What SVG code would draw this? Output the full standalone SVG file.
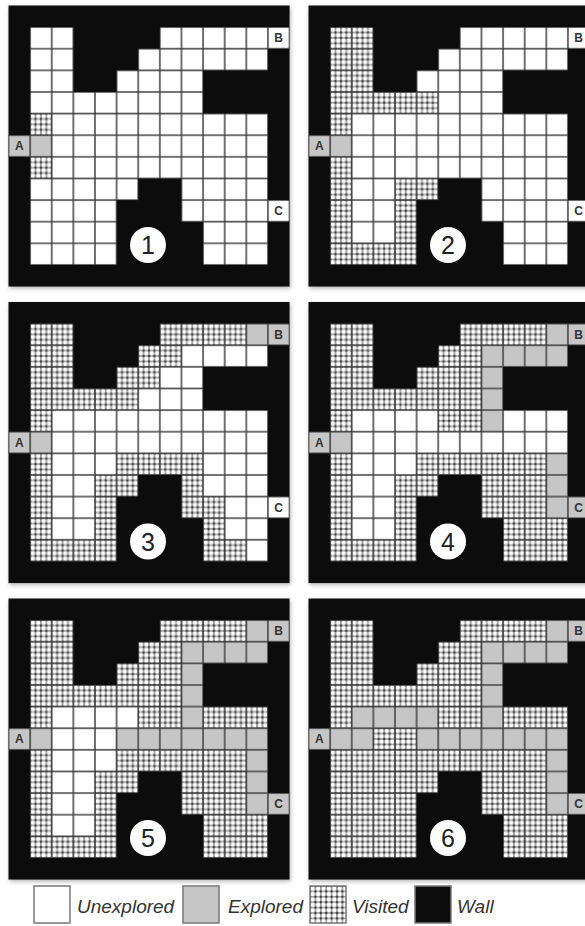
<svg xmlns="http://www.w3.org/2000/svg" width="585" height="926" viewBox="0 0 585 926">
<style>
.w{fill:url(#pw)}
.e{fill:url(#pe)}
.v{fill:url(#pv)}
.bk{fill:#0c0c0c}
.lbl{font-family:"Liberation Sans",Arial,sans-serif;font-weight:bold;font-size:12px;fill:#333;text-anchor:middle}
.num{font-family:"Liberation Sans",Arial,sans-serif;font-size:25px;fill:#222;text-anchor:middle}
.leg{font-family:"Liberation Sans",Arial,sans-serif;font-style:italic;font-size:19px;fill:#333}
.sh{fill:#777;opacity:0.55;filter:url(#blur)}
.lb{stroke:#777;stroke-width:1.5}
</style>
<defs>
<filter id="blur" x="-10%" y="-10%" width="120%" height="120%"><feGaussianBlur stdDeviation="2"/></filter>
<pattern id="pw" patternUnits="userSpaceOnUse" width="1" height="1"><rect width="1" height="1" fill="#fff"/><path d="M0 0H1V1H0Z" fill="none" stroke="#444" stroke-width="0.07"/></pattern>
<pattern id="pe" patternUnits="userSpaceOnUse" width="1" height="1"><rect width="1" height="1" fill="#c6c6c6"/><path d="M0 0H1V1H0Z" fill="none" stroke="#444" stroke-width="0.07"/></pattern>
<pattern id="ph" patternUnits="userSpaceOnUse" width="0.25" height="0.25"><rect width="0.25" height="0.25" fill="#8a8a8a"/><circle cx="0.125" cy="0.125" r="0.1" fill="#fff"/><circle cx="0" cy="0" r="0.045" fill="#2a2a2a"/><circle cx="0.25" cy="0" r="0.045" fill="#2a2a2a"/><circle cx="0" cy="0.25" r="0.045" fill="#2a2a2a"/><circle cx="0.25" cy="0.25" r="0.045" fill="#2a2a2a"/></pattern>
<pattern id="pv" patternUnits="userSpaceOnUse" width="1" height="1"><rect width="1" height="1" fill="url(#ph)"/><path d="M0 0H1V1H0Z" fill="none" stroke="#444" stroke-width="0.07"/></pattern>
</defs>

<g id="panel1" transform="translate(8.5,5.5)">
<rect class="sh" x="1" y="2" width="281" height="281"/>
<g transform="scale(21.62)">
<rect class="bk" width="13" height="13"/>
<rect class="w" x="1" y="1" width="2" height="3"/>
<rect class="w" x="7" y="1" width="5" height="1"/>
<rect class="w" x="6" y="2" width="6" height="1"/>
<rect class="w" x="5" y="3" width="4" height="1"/>
<rect class="w" x="1" y="4" width="8" height="1"/>
<rect class="v" x="1" y="5" width="1" height="1"/>
<rect class="w" x="2" y="5" width="10" height="3"/>
<rect class="e" x="1" y="6" width="1" height="1"/>
<rect class="v" x="1" y="7" width="1" height="1"/>
<rect class="w" x="1" y="8" width="5" height="1"/>
<rect class="w" x="8" y="8" width="4" height="2"/>
<rect class="w" x="1" y="9" width="4" height="3"/>
<rect class="w" x="9" y="10" width="3" height="2"/>
<rect class="e" x="0" y="6" width="1" height="1"/>
<rect class="w" x="12" y="1" width="1" height="1"/>
<rect class="w" x="12" y="9" width="1" height="1"/>
</g>
<text class="lbl" x="10.8" y="144.8">A</text>
<text class="lbl" x="270.2" y="36.7">B</text>
<text class="lbl" x="270.2" y="209.7">C</text>
<circle cx="139.5" cy="239.5" r="18" fill="#fff"/>
<text class="num" x="139.5" y="248.5">1</text>
</g>

<g id="panel2" transform="translate(308.5,5.5)">
<rect class="sh" x="1" y="2" width="281" height="281"/>
<g transform="scale(21.62)">
<rect class="bk" width="13" height="13"/>
<rect class="v" x="1" y="1" width="2" height="3"/>
<rect class="w" x="7" y="1" width="5" height="1"/>
<rect class="w" x="6" y="2" width="6" height="1"/>
<rect class="w" x="5" y="3" width="4" height="1"/>
<rect class="v" x="1" y="4" width="5" height="1"/>
<rect class="w" x="6" y="4" width="3" height="1"/>
<rect class="v" x="1" y="5" width="1" height="1"/>
<rect class="w" x="2" y="5" width="10" height="3"/>
<rect class="e" x="1" y="6" width="1" height="1"/>
<rect class="v" x="1" y="7" width="1" height="4"/>
<rect class="w" x="2" y="8" width="2" height="3"/>
<rect class="v" x="4" y="8" width="2" height="1"/>
<rect class="w" x="8" y="8" width="4" height="2"/>
<rect class="v" x="4" y="9" width="1" height="2"/>
<rect class="w" x="9" y="10" width="3" height="2"/>
<rect class="v" x="1" y="11" width="4" height="1"/>
<rect class="e" x="0" y="6" width="1" height="1"/>
<rect class="w" x="12" y="1" width="1" height="1"/>
<rect class="w" x="12" y="9" width="1" height="1"/>
</g>
<text class="lbl" x="10.8" y="144.8">A</text>
<text class="lbl" x="270.2" y="36.7">B</text>
<text class="lbl" x="270.2" y="209.7">C</text>
<circle cx="139.5" cy="239.5" r="18" fill="#fff"/>
<text class="num" x="139.5" y="248.5">2</text>
</g>

<g id="panel3" transform="translate(8.5,302)">
<rect class="sh" x="1" y="2" width="281" height="281"/>
<g transform="scale(21.62)">
<rect class="bk" width="13" height="13"/>
<rect class="v" x="1" y="1" width="2" height="3"/>
<rect class="v" x="7" y="1" width="4" height="1"/>
<rect class="e" x="11" y="1" width="1" height="1"/>
<rect class="v" x="6" y="2" width="2" height="1"/>
<rect class="w" x="8" y="2" width="4" height="1"/>
<rect class="v" x="5" y="3" width="2" height="1"/>
<rect class="w" x="7" y="3" width="2" height="1"/>
<rect class="v" x="1" y="4" width="5" height="1"/>
<rect class="w" x="6" y="4" width="3" height="1"/>
<rect class="v" x="1" y="5" width="1" height="1"/>
<rect class="w" x="2" y="5" width="10" height="2"/>
<rect class="e" x="1" y="6" width="1" height="1"/>
<rect class="v" x="1" y="7" width="1" height="4"/>
<rect class="w" x="2" y="7" width="3" height="1"/>
<rect class="v" x="5" y="7" width="4" height="1"/>
<rect class="w" x="9" y="7" width="3" height="2"/>
<rect class="w" x="2" y="8" width="2" height="3"/>
<rect class="v" x="4" y="8" width="2" height="1"/>
<rect class="v" x="8" y="8" width="1" height="2"/>
<rect class="v" x="4" y="9" width="1" height="2"/>
<rect class="v" x="9" y="9" width="1" height="3"/>
<rect class="w" x="10" y="9" width="2" height="2"/>
<rect class="v" x="1" y="11" width="4" height="1"/>
<rect class="v" x="10" y="11" width="1" height="1"/>
<rect class="w" x="11" y="11" width="1" height="1"/>
<rect class="e" x="0" y="6" width="1" height="1"/>
<rect class="e" x="12" y="1" width="1" height="1"/>
<rect class="w" x="12" y="9" width="1" height="1"/>
</g>
<text class="lbl" x="10.8" y="144.8">A</text>
<text class="lbl" x="270.2" y="36.7">B</text>
<text class="lbl" x="270.2" y="209.7">C</text>
<circle cx="139.5" cy="239.5" r="18" fill="#fff"/>
<text class="num" x="139.5" y="248.5">3</text>
</g>

<g id="panel4" transform="translate(308.5,302)">
<rect class="sh" x="1" y="2" width="281" height="281"/>
<g transform="scale(21.62)">
<rect class="bk" width="13" height="13"/>
<rect class="v" x="1" y="1" width="2" height="3"/>
<rect class="v" x="7" y="1" width="4" height="1"/>
<rect class="e" x="11" y="1" width="1" height="1"/>
<rect class="v" x="6" y="2" width="2" height="1"/>
<rect class="e" x="8" y="2" width="4" height="1"/>
<rect class="v" x="5" y="3" width="3" height="1"/>
<rect class="e" x="8" y="3" width="1" height="3"/>
<rect class="v" x="1" y="4" width="7" height="1"/>
<rect class="v" x="1" y="5" width="1" height="1"/>
<rect class="w" x="2" y="5" width="4" height="1"/>
<rect class="v" x="6" y="5" width="2" height="1"/>
<rect class="w" x="9" y="5" width="3" height="1"/>
<rect class="e" x="1" y="6" width="1" height="1"/>
<rect class="w" x="2" y="6" width="10" height="1"/>
<rect class="v" x="1" y="7" width="1" height="4"/>
<rect class="w" x="2" y="7" width="3" height="1"/>
<rect class="v" x="5" y="7" width="6" height="1"/>
<rect class="e" x="11" y="7" width="1" height="3"/>
<rect class="w" x="2" y="8" width="2" height="3"/>
<rect class="v" x="4" y="8" width="2" height="1"/>
<rect class="v" x="8" y="8" width="3" height="2"/>
<rect class="v" x="4" y="9" width="1" height="2"/>
<rect class="v" x="9" y="10" width="3" height="2"/>
<rect class="v" x="1" y="11" width="4" height="1"/>
<rect class="e" x="0" y="6" width="1" height="1"/>
<rect class="e" x="12" y="1" width="1" height="1"/>
<rect class="e" x="12" y="9" width="1" height="1"/>
</g>
<text class="lbl" x="10.8" y="144.8">A</text>
<text class="lbl" x="270.2" y="36.7">B</text>
<text class="lbl" x="270.2" y="209.7">C</text>
<circle cx="139.5" cy="239.5" r="18" fill="#fff"/>
<text class="num" x="139.5" y="248.5">4</text>
</g>

<g id="panel5" transform="translate(8.5,598.5)">
<rect class="sh" x="1" y="2" width="281" height="281"/>
<g transform="scale(21.62)">
<rect class="bk" width="13" height="13"/>
<rect class="v" x="1" y="1" width="2" height="3"/>
<rect class="v" x="7" y="1" width="4" height="1"/>
<rect class="e" x="11" y="1" width="1" height="1"/>
<rect class="v" x="6" y="2" width="2" height="1"/>
<rect class="e" x="8" y="2" width="4" height="1"/>
<rect class="v" x="5" y="3" width="3" height="1"/>
<rect class="e" x="8" y="3" width="1" height="3"/>
<rect class="v" x="1" y="4" width="7" height="1"/>
<rect class="v" x="1" y="5" width="1" height="1"/>
<rect class="w" x="2" y="5" width="4" height="1"/>
<rect class="v" x="6" y="5" width="2" height="1"/>
<rect class="v" x="9" y="5" width="3" height="1"/>
<rect class="e" x="1" y="6" width="1" height="1"/>
<rect class="w" x="2" y="6" width="3" height="1"/>
<rect class="e" x="5" y="6" width="7" height="1"/>
<rect class="v" x="1" y="7" width="1" height="4"/>
<rect class="w" x="2" y="7" width="3" height="1"/>
<rect class="v" x="5" y="7" width="6" height="1"/>
<rect class="e" x="11" y="7" width="1" height="3"/>
<rect class="w" x="2" y="8" width="2" height="3"/>
<rect class="v" x="4" y="8" width="2" height="1"/>
<rect class="v" x="8" y="8" width="3" height="2"/>
<rect class="v" x="4" y="9" width="1" height="2"/>
<rect class="v" x="9" y="10" width="3" height="2"/>
<rect class="v" x="1" y="11" width="4" height="1"/>
<rect class="e" x="0" y="6" width="1" height="1"/>
<rect class="e" x="12" y="1" width="1" height="1"/>
<rect class="e" x="12" y="9" width="1" height="1"/>
</g>
<text class="lbl" x="10.8" y="144.8">A</text>
<text class="lbl" x="270.2" y="36.7">B</text>
<text class="lbl" x="270.2" y="209.7">C</text>
<circle cx="139.5" cy="239.5" r="18" fill="#fff"/>
<text class="num" x="139.5" y="248.5">5</text>
</g>

<g id="panel6" transform="translate(308.5,598.5)">
<rect class="sh" x="1" y="2" width="281" height="281"/>
<g transform="scale(21.62)">
<rect class="bk" width="13" height="13"/>
<rect class="v" x="1" y="1" width="2" height="3"/>
<rect class="v" x="7" y="1" width="4" height="1"/>
<rect class="e" x="11" y="1" width="1" height="1"/>
<rect class="v" x="6" y="2" width="2" height="1"/>
<rect class="e" x="8" y="2" width="4" height="1"/>
<rect class="v" x="5" y="3" width="3" height="1"/>
<rect class="e" x="8" y="3" width="1" height="3"/>
<rect class="v" x="1" y="4" width="7" height="1"/>
<rect class="v" x="1" y="5" width="1" height="1"/>
<rect class="e" x="2" y="5" width="4" height="1"/>
<rect class="v" x="6" y="5" width="2" height="1"/>
<rect class="v" x="9" y="5" width="3" height="1"/>
<rect class="e" x="1" y="6" width="2" height="1"/>
<rect class="v" x="3" y="6" width="2" height="1"/>
<rect class="e" x="5" y="6" width="7" height="1"/>
<rect class="v" x="1" y="7" width="10" height="1"/>
<rect class="e" x="11" y="7" width="1" height="3"/>
<rect class="v" x="1" y="8" width="5" height="1"/>
<rect class="v" x="8" y="8" width="3" height="2"/>
<rect class="v" x="1" y="9" width="4" height="3"/>
<rect class="v" x="9" y="10" width="3" height="2"/>
<rect class="e" x="0" y="6" width="1" height="1"/>
<rect class="e" x="12" y="1" width="1" height="1"/>
<rect class="e" x="12" y="9" width="1" height="1"/>
</g>
<text class="lbl" x="10.8" y="144.8">A</text>
<text class="lbl" x="270.2" y="36.7">B</text>
<text class="lbl" x="270.2" y="209.7">C</text>
<circle cx="139.5" cy="239.5" r="18" fill="#fff"/>
<text class="num" x="139.5" y="248.5">6</text>
</g>

<g id="legend">
<rect class="lb" x="34" y="886" width="36" height="37" fill="#fff"/>
<text class="leg" x="77" y="913">Unexplored</text>
<rect class="lb" x="183" y="886" width="36" height="37" fill="#c6c6c6"/>
<text class="leg" x="228" y="913">Explored</text>
<g transform="translate(310,886) scale(21.62)"><rect width="1.665" height="1.711" fill="url(#ph)"/></g>
<rect class="lb" x="310" y="886" width="36" height="37" fill="none"/>
<text class="leg" x="352" y="913">Visited</text>
<rect class="lb" x="415" y="886" width="36" height="37" fill="#0c0c0c"/>
<text class="leg" x="457" y="913">Wall</text>
</g>
</svg>
